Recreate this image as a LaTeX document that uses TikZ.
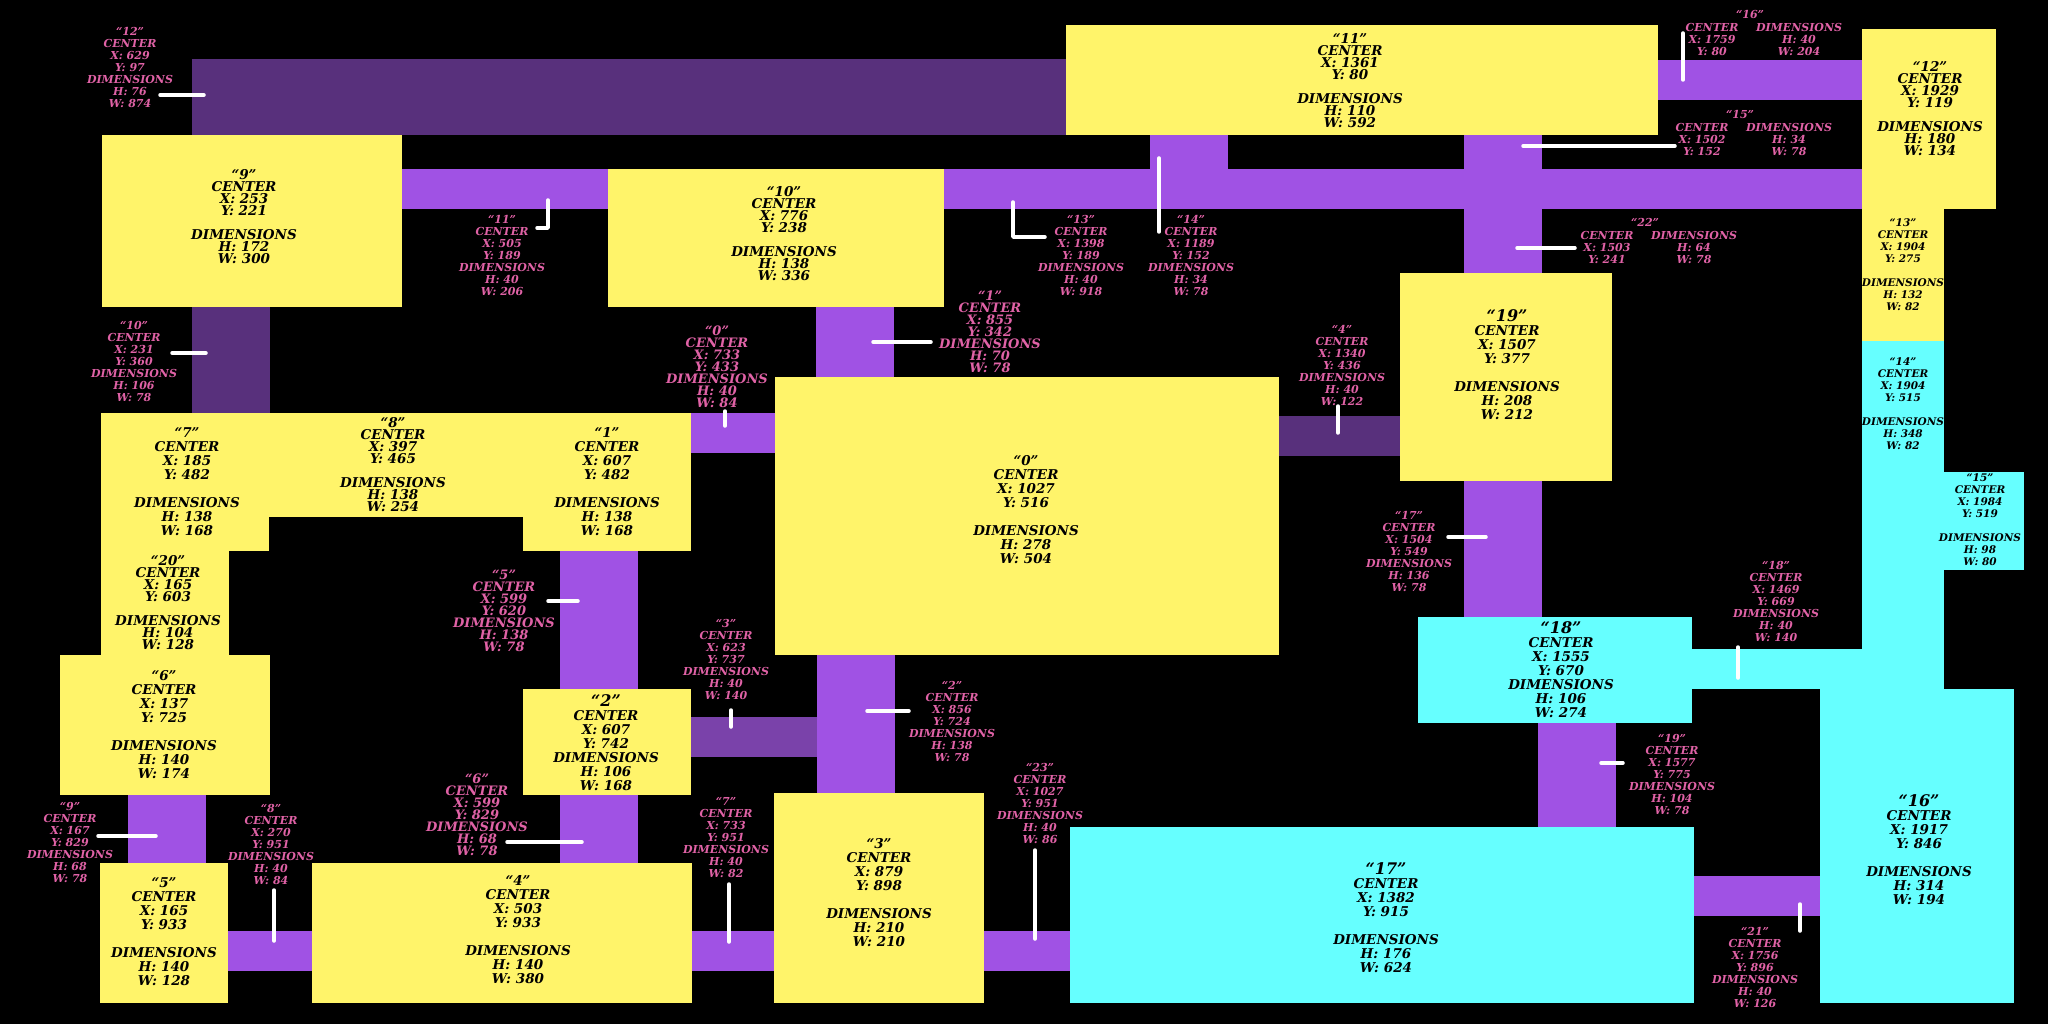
\documentclass[tikz,border=0pt]{standalone}
\usepackage{fontspec}
\setmainfont{DejaVu Serif}
\definecolor{sala}{RGB}{255,244,106}
\definecolor{salaciano}{RGB}{102,255,255}
\definecolor{corredor}{RGB}{160,82,228}
\definecolor{corredorescuro}{RGB}{88,48,124}
\definecolor{corredormedio}{RGB}{122,66,170}
\definecolor{rotulo}{RGB}{224,98,166}
\newcommand{\salatexto}[5]{“#1”\\CENTER\\X: #2\\Y: #3\\[\baselineskip]DIMENSIONS\\H: #4\\W: #5}
\newcommand{\salatitulo}[5]{{\fontsize{16}{14}\selectfont “#1”}\\CENTER\\X: #2\\Y: #3\\[\baselineskip]DIMENSIONS\\H: #4\\W: #5}
\newcommand{\salacurta}[5]{{\fontsize{16}{14}\selectfont “#1”}\\CENTER\\X: #2\\Y: #3\\DIMENSIONS\\H: #4\\W: #5}
\newcommand{\cortexto}[5]{“#1”\\CENTER\\X: #2\\Y: #3\\DIMENSIONS\\H: #4\\W: #5}
\tikzset{
    salagrande/.style={align=center, inner sep=0pt, font=\fontsize{13.5}{14}\selectfont\bfseries\itshape},
    salamedia/.style={align=center, inner sep=0pt, font=\fontsize{13.5}{12}\selectfont\bfseries\itshape},
    salapequena/.style={align=center, inner sep=0pt, font=\fontsize{10.5}{12}\selectfont\bfseries\itshape},
    rotulopeq/.style={align=center, inner sep=0pt, text=rotulo, font=\fontsize{11}{12}\selectfont\bfseries\itshape},
    rotulogr/.style={align=center, inner sep=0pt, text=rotulo, font=\fontsize{13}{12}\selectfont\bfseries\itshape},
    guia/.style={white, line width=3.5pt, line cap=round, line join=round}
}

\begin{document}
\begin{tikzpicture}[x=1pt, y=-1pt]
    \fill[black] (0,0) rectangle (2048,1024);
    \useasboundingbox (0,0) rectangle (2048,1024);
    % corredores
    \foreach \xa/\ya/\xb/\yb in {691/413/775/453, 816/307/894/377, 817/655/895/793,
        560/551/638/689, 560/795/638/863, 692/931/774/971, 228/931/312/971,
        128/795/206/863, 402/169/608/209, 944/169/1862/209, 1150/135/1228/169,
        1464/135/1542/169, 1658/60/1862/100, 1464/481/1542/617, 1538/723/1616/827,
        1694/876/1820/916, 1464/209/1542/273, 984/931/1070/971} {
        \fill[corredor] (\xa,\ya) rectangle (\xb,\yb);
    }
    \foreach \xa/\ya/\xb/\yb in {192/307/270/413, 192/59/1066/135, 1279/416/1400/456} {
        \fill[corredorescuro] (\xa,\ya) rectangle (\xb,\yb);
    }
    \fill[corredormedio] (691,717) rectangle (817,757);
    \fill[salaciano] (1692,649) rectangle (1862,689);
    % salas
    \foreach \xa/\ya/\xb/\yb in {775/377/1279/655, 523/413/691/551, 523/689/691/795,
        774/793/984/1003, 312/863/692/1003, 100/863/228/1003, 60/655/270/795,
        101/413/269/551, 269/413/523/517, 102/135/402/307, 608/169/944/307,
        1066/25/1658/135, 1862/29/1996/209, 1862/209/1944/341, 1400/273/1612/481,
        101/551/229/655} {
        \fill[sala] (\xa,\ya) rectangle (\xb,\yb);
    }
    \foreach \xa/\ya/\xb/\yb in {1862/341/1944/689, 1944/472/2024/570,
        1820/689/2014/1003, 1070/827/1694/1003, 1418/617/1692/723} {
        \fill[salaciano] (\xa,\ya) rectangle (\xb,\yb);
    }
    % textos das salas
    \foreach \nm/\lx/\ly/\tx/\ty/\hh/\ww in {0/1026/509.5/1027/516/278/504,
        1/607/481.5/607/482/138/168, 3/879/892.5/879/898/210/210,
        4/518/929.5/503/933/140/380, 5/164/931.5/165/933/140/128,
        6/164/724.5/137/725/140/174, 7/187/481.5/185/482/138/168} {
        \node[salagrande] (s\nm) at (\lx,\ly) {\salatexto{\nm}{\tx}{\ty}{\hh}{\ww}};
    }
    \foreach \nm/\lx/\ly/\tx/\ty/\hh/\ww in {16/1919/850/1917/846/314/194,
        17/1386/917.5/1382/915/176/624, 19/1507/364.5/1507/377/208/212} {
        \node[salagrande] (s\nm) at (\lx,\ly) {\salatitulo{\nm}{\tx}{\ty}{\hh}{\ww}};
    }
    \foreach \nm/\lx/\ly/\tx/\ty/\hh/\ww in {2/606/742.5/607/742/106/168,
        18/1561/669.5/1555/670/106/274} {
        \node[salagrande] (s\nm) at (\lx,\ly) {\salacurta{\nm}{\tx}{\ty}{\hh}{\ww}};
    }
    \foreach \nm/\lx/\ly/\tx/\ty/\hh/\ww in {8/393/465/397/465/138/254,
        9/244/216.5/253/221/172/300, 10/784/234/776/238/138/336,
        11/1350/80.5/1361/80/110/592, 12/1930/109/1929/119/180/134,
        20/168/603/165/603/104/128} {
        \node[salamedia] (s\nm) at (\lx,\ly) {\salatexto{\nm}{\tx}{\ty}{\hh}{\ww}};
    }
    \foreach \nm/\lx/\ly/\tx/\ty/\hh/\ww in {13/1903/265/1904/275/132/82,
        14/1903/404/1904/515/348/82, 15/1980/520/1984/519/98/80} {
        \node[salapequena] (s\nm) at (\lx,\ly) {\salatexto{\nm}{\tx}{\ty}{\hh}{\ww}};
    }
    % rotulos dos corredores
    \foreach \nm/\lx/\ly/\tx/\ty/\hh/\ww in {12/130/67/629/97/76/874,
        10/134/361/231/360/106/78, 11/502/255/505/189/40/206,
        13/1081/255/1398/189/40/918, 14/1191/255/1189/152/34/78,
        4/1342/365/1340/436/40/122, 9/70/842/167/829/68/78,
        8/271/844/270/951/40/84, 3/726/659/623/737/40/140,
        2/952/721/856/724/138/78, 7/726/837/733/951/40/82,
        23/1040/803/1027/951/40/86, 17/1409/551/1504/549/136/78,
        18/1776/601/1469/669/40/140, 19/1672/774/1577/775/104/78,
        21/1755/967/1756/896/40/126} {
        \node[rotulopeq] (c\nm) at (\lx,\ly) {\cortexto{\nm}{\tx}{\ty}{\hh}{\ww}};
    }
    \foreach \nm/\lx/\ly/\tx/\ty/\hh/\ww in {0/717/367/733/433/40/84,
        1/990/332/855/342/70/78, 5/504/611/599/620/138/78,
        6/477/815/599/829/68/78} {
        \node[rotulogr] (c\nm) at (\lx,\ly) {\cortexto{\nm}{\tx}{\ty}{\hh}{\ww}};
    }
    % rotulos em duas colunas
    \foreach \nm/\lx/\ly/\tx/\ty/\hh/\ww in {16/1750/14/1759/80/40/204,
        15/1740/114/1502/152/34/78, 22/1645/222/1503/241/64/78} {
        \node[rotulopeq] (c\nm) at (\lx,\ly) {“\nm”};
        \node[rotulopeq] (c\nm a) at (\lx-38,\ly+25) {CENTER\\X: \tx\\Y: \ty};
        \node[rotulopeq] (c\nm b) at (\lx+49,\ly+25) {DIMENSIONS\\H: \hh\\W: \ww};
    }
    % linhas guia
    \foreach \xa/\ya/\xb/\yb in {160/95/204/95, 172/353/206/353, 725/411/725/426,
        873/342/931/342, 1159/158/1159/232, 1338/406/1338/433, 1683/33/1683/80,
        1523/146/1675/146, 1517/248/1575/248, 548/601/578/601, 507/842/582/842,
        98/836/156/836, 274/890/274/941, 731/710/731/727, 867/711/909/711,
        729/884/729/942, 1035/850/1035/939, 1448/537/1486/537, 1738/647/1738/678,
        1601/763/1623/763, 1800/904/1800/931} {
        \draw[guia] (\xa,\ya) -- (\xb,\yb);
    }
    \draw[guia] (548,200) -- (548,228) -- (537,228);
    \draw[guia] (1013,202) -- (1013,237) -- (1045,237);
\end{tikzpicture}
\end{document}
